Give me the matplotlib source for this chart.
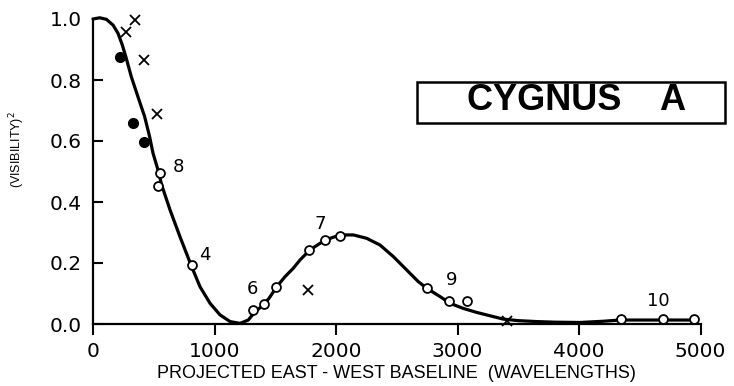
import matplotlib

matplotlib.use("Agg")
import matplotlib.pyplot as plt
from matplotlib.patches import Rectangle

# model curve (hand-traced fit)
curve_x = [0, 55, 110, 165, 206, 241, 274, 315, 370, 425, 466, 494, 535, 565,
           634, 716, 812, 881, 963, 1045, 1128, 1210, 1278, 1333, 1402, 1450,
           1512, 1580, 1649, 1704, 1786, 1909, 2033, 2143, 2252, 2362, 2472,
           2582, 2677, 2747, 2856, 2938, 3048, 3158, 3267, 3377, 3500, 3650,
           3800, 4008, 4200, 4337, 4694, 4941]
curve_y = [1.0, 1.004, 0.999, 0.98, 0.953, 0.915, 0.871, 0.811, 0.745, 0.68,
           0.614, 0.56, 0.505, 0.456, 0.374, 0.286, 0.188, 0.122, 0.068, 0.03,
           0.008, 0.002, 0.013, 0.04, 0.062, 0.085, 0.122, 0.155, 0.183, 0.21,
           0.243, 0.275, 0.292, 0.292, 0.281, 0.259, 0.221, 0.177, 0.139,
           0.117, 0.09, 0.068, 0.051, 0.038, 0.027, 0.016, 0.011, 0.008, 0.006,
           0.005, 0.009, 0.013, 0.013, 0.013]

# measurements
filled_x = [222, 327, 420]
filled_y = [0.875, 0.66, 0.598]

cross_x = [272, 346, 422, 524, 1767, 3405]
cross_y = [0.958, 0.997, 0.866, 0.688, 0.111, 0.01]

open_x = [533, 551, 812, 1319, 1407, 1504, 1780, 1909, 2033, 2747, 2933,
          3076, 4343, 4689, 4947]
open_y = [0.453, 0.496, 0.192, 0.046, 0.065, 0.12, 0.243, 0.275, 0.29,
          0.117, 0.075, 0.075, 0.015, 0.015, 0.015]

# point labels
label_text = ["8", "4", "6", "7", "9", "10"]
label_x = [700, 922, 1314, 1868, 2952, 4653]
label_y = [0.515, 0.226, 0.115, 0.328, 0.144, 0.076]

xticks = [0, 1000, 2000, 3000, 4000, 5000]
yticks = [0.0, 0.2, 0.4, 0.6, 0.8, 1.0]

W, H = 734, 386
fig = plt.figure(figsize=(W / 100, H / 100), dpi=100)
fig.patch.set_facecolor("white")
ax = fig.add_axes([93 / W, 62 / H, 607.5 / W, 305 / H])

ax.plot(curve_x, curve_y, color="black", lw=2.3, solid_capstyle="round",
        solid_joinstyle="round", clip_on=False, zorder=2)
ax.plot(filled_x, filled_y, "o", color="black", ms=7, clip_on=False, zorder=3)
ax.plot(open_x, open_y, "o", mfc="white", mec="black", mew=1.3, ms=6.4,
        clip_on=False, zorder=4)
ax.plot(cross_x, cross_y, "x", color="black", mew=1.3, ms=6.5,
        clip_on=False, zorder=4)

for t, x, y in zip(label_text, label_x, label_y):
    ax.text(x, y, t, fontsize=13, ha="center", va="center", family="DejaVu Sans")

ax.set_xlim(0, 5000)
ax.set_ylim(0, 1.0)
ax.set_xticks(xticks)
ax.set_yticks(yticks)
ax.set_xticklabels([str(v) for v in xticks])
ax.set_yticklabels([f"{v:.1f}" for v in yticks])
ax.tick_params(axis="y", direction="in", length=7, width=1.5, pad=8, labelsize=14.5)
ax.tick_params(axis="x", direction="out", length=8, width=1.5, pad=5, labelsize=14.5)
ax.yaxis.get_major_ticks()[-1].tick1line.set_visible(False)

for side in ("top", "right"):
    ax.spines[side].set_visible(False)
for side in ("left", "bottom"):
    ax.spines[side].set_linewidth(1.6)

ax.set_xlabel("PROJECTED EAST - WEST BASELINE  (WAVELENGTHS)",
              fontsize=13, family="Liberation Sans", labelpad=3)
fig.text(17 / W, 1 - 150 / H, "(VISIBILITY)$^2$", rotation=90, fontsize=9,
         family="Liberation Sans", ha="center", va="center")

# title box
fig.add_artist(Rectangle((417 / W, 1 - 123 / H), 308 / W, 41 / H,
                         transform=fig.transFigure, fill=False,
                         edgecolor="black", lw=1.8))
fig.text(577 / W, 1 - 101 / H, "CYGNUS    A", fontsize=26, fontweight="bold",
         family="Liberation Sans", ha="center", va="center")

fig.savefig("out.png", dpi=100)
